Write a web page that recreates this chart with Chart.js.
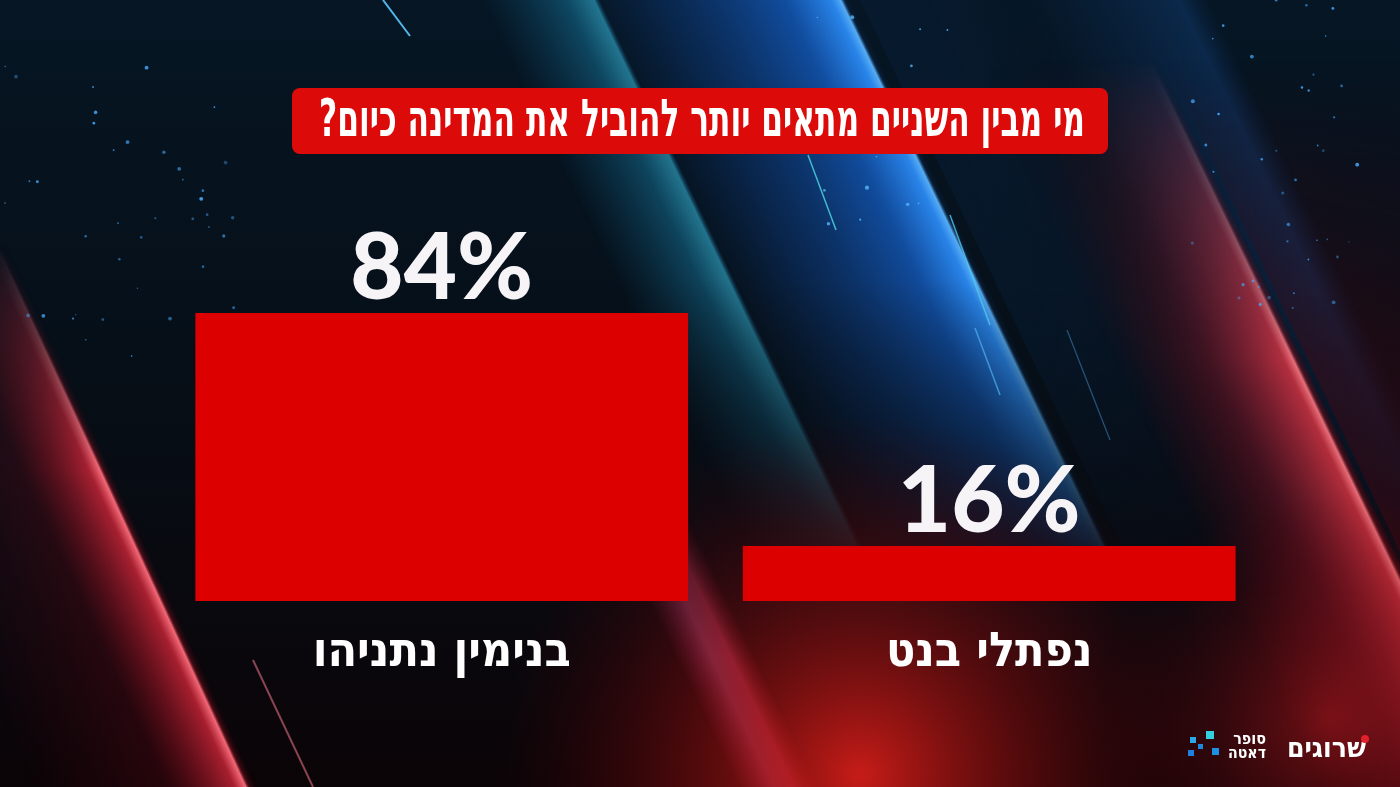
<!DOCTYPE html>
<html>
<head>
<meta charset="utf-8">
<script src="https://cdn.jsdelivr.net/npm/chart.js@4"></script>
<style>
html,body{margin:0;padding:0;background:#06111b;overflow:hidden}
canvas{display:block}
</style>
</head>
<body>
<canvas id="pollChart" width="1400" height="787"></canvas>
<script>
// data
const candidates = ["בנימין נתניהו", "נפתלי בנט"];
const shares = [84, 16];
const question = "מי מבין השניים מתאים יותר להוביל את המדינה כיום?";

const HEB = '"Liberation Sans Narrow", "DejaVu Sans Condensed", "Noto Sans", sans-serif';
const NUM = 'Lato, "Open Sans", sans-serif';
const SLOPE = 0.48;

// seeded generator, only for background sparkles
let seed = 11;
function rnd(){ seed = (seed * 16807) % 2147483647; return (seed - 1) / 2147483646; }

// diagonal band with a gradient across it
function band(ctx, x, w, slope, h, stops){
  const a = Math.atan(slope);
  ctx.save();
  ctx.translate(x, 0);
  ctx.rotate(-a);
  const ww = w * Math.cos(a);
  const g = ctx.createLinearGradient(0, 0, ww, 0);
  stops.forEach(s => g.addColorStop(s[0], s[1]));
  ctx.fillStyle = g;
  ctx.fillRect(0, -50, ww, h / Math.cos(a) + 300);
  ctx.restore();
}

// draw on an offscreen layer and fade it vertically
function layer(ctx, w, h, y0, a0, y1, a1, draw){
  const off = document.createElement('canvas');
  off.width = w; off.height = h;
  const o = off.getContext('2d');
  draw(o);
  o.globalCompositeOperation = 'destination-in';
  const g = o.createLinearGradient(0, y0, 0, y1);
  g.addColorStop(0, 'rgba(0,0,0,' + a0 + ')');
  g.addColorStop(1, 'rgba(0,0,0,' + a1 + ')');
  o.fillStyle = g;
  o.fillRect(0, 0, w, h);
  ctx.drawImage(off, 0, 0);
}

function streakLine(ctx, x1, y1, x2, y2, color, width){
  ctx.save();
  ctx.strokeStyle = color;
  ctx.lineWidth = width;
  ctx.beginPath();
  ctx.moveTo(x1, y1);
  ctx.lineTo(x2, y2);
  ctx.stroke();
  ctx.restore();
}

function paintBackground(ctx, w, h){
  let g = ctx.createLinearGradient(0, 0, 0, h);
  g.addColorStop(0, '#061624');
  g.addColorStop(0.45, '#060f18');
  g.addColorStop(1, '#0b0407');
  ctx.fillStyle = g;
  ctx.fillRect(0, 0, w, h);

  // blue bands, fading out toward the bottom
  layer(ctx, w, h, 280, 1, 600, 0, o => {
    band(o, 480, 120, SLOPE, h, [[0,'rgba(20,120,170,0)'],[0.7,'rgba(30,160,210,0.35)'],[0.95,'rgba(60,200,235,0.55)'],[1,'rgba(20,120,170,0)']]);
    band(o, 585, 265, SLOPE, h, [[0,'rgba(15,60,120,0)'],[0.3,'rgba(15,65,140,0.4)'],[0.75,'rgba(22,100,210,0.7)'],[0.93,'rgba(45,145,255,0.9)'],[0.965,'rgba(90,180,255,0.95)'],[0.98,'rgba(10,40,80,0.4)'],[1,'rgba(10,40,80,0)']]);
    band(o, 860, 170, SLOPE, h, [[0,'rgba(8,30,55,0.5)'],[0.5,'rgba(10,35,65,0.3)'],[1,'rgba(10,35,65,0)']]);
    band(o, 1010, 200, SLOPE, h, [[0,'rgba(15,55,110,0)'],[0.85,'rgba(20,70,135,0.4)'],[1,'rgba(15,55,110,0)']]);
  });

  // left red streak
  layer(ctx, w, h, 240, 0, 470, 1, o => {
    band(o, -330, 225, 0.46, h, [[0,'rgba(120,5,20,0)'],[0.6,'rgba(140,10,25,0.22)'],[0.9,'rgba(220,40,60,0.75)'],[0.95,'rgba(255,110,125,0.95)'],[0.965,'rgba(150,20,35,0.4)'],[1,'rgba(60,0,10,0)']]);
  });

  // right red streak
  layer(ctx, w, h, 60, 0, 360, 1, o => {
    band(o, 940, 190, SLOPE, h, [[0,'rgba(120,5,20,0)'],[0.5,'rgba(170,25,45,0.35)'],[0.9,'rgba(235,55,70,0.75)'],[0.95,'rgba(255,120,130,0.9)'],[0.97,'rgba(140,15,25,0.45)'],[1,'rgba(60,0,10,0.3)']]);
    band(o, 1135, 400, SLOPE, h, [[0,'rgba(80,5,15,0.4)'],[1,'rgba(40,0,8,0.2)']]);
  });

  // centre pink streak
  layer(ctx, w, h, 430, 0, 660, 1, o => {
    band(o, 360, 80, SLOPE, h, [[0,'rgba(180,40,110,0)'],[0.45,'rgba(225,90,160,0.55)'],[0.7,'rgba(235,70,120,0.6)'],[1,'rgba(180,30,60,0)']]);
  });

  // red glows
  let r = ctx.createRadialGradient(860, 775, 5, 860, 775, 360);
  r.addColorStop(0, 'rgba(215,30,25,0.9)');
  r.addColorStop(0.45, 'rgba(150,15,15,0.5)');
  r.addColorStop(1, 'rgba(80,0,5,0)');
  ctx.fillStyle = r;
  ctx.fillRect(400, 400, 1000, 387);

  r = ctx.createRadialGradient(1330, 720, 5, 1330, 720, 230);
  r.addColorStop(0, 'rgba(190,25,30,0.55)');
  r.addColorStop(1, 'rgba(100,0,8,0)');
  ctx.fillStyle = r;
  ctx.fillRect(1050, 450, 350, 337);

  // thin light lines
  streakLine(ctx, 383, 0, 410, 36, 'rgba(90,200,255,0.9)', 2);
  streakLine(ctx, 808, 155, 836, 230, 'rgba(80,220,230,0.8)', 1.5);
  streakLine(ctx, 950, 215, 990, 325, 'rgba(80,200,240,0.8)', 1.5);
  streakLine(ctx, 975, 328, 1000, 395, 'rgba(80,180,240,0.7)', 1.5);
  streakLine(ctx, 1067, 330, 1110, 440, 'rgba(70,150,220,0.5)', 1.2);
  streakLine(ctx, 253, 660, 313, 787, 'rgba(240,120,140,0.55)', 2);

  // sparkles
  for (let i = 0; i < 80; i++){
    const left = i < 40;
    const x = left ? 5 + rnd() * 230 : 1190 + rnd() * 170;
    const y = left ? 60 + rnd() * 320 : rnd() * 310;
    const s = 0.7 + rnd() * 1.3;
    ctx.fillStyle = 'rgba(70,170,255,' + (0.35 + rnd() * 0.55).toFixed(2) + ')';
    ctx.beginPath();
    ctx.arc(x, y, s, 0, Math.PI * 2);
    ctx.fill();
  }
  for (let i = 0; i < 16; i++){
    const x = 815 + rnd() * 140;
    const y = rnd() * 240;
    ctx.fillStyle = 'rgba(90,190,255,0.75)';
    ctx.beginPath();
    ctx.arc(x, y, 0.8 + rnd() * 1.4, 0, Math.PI * 2);
    ctx.fill();
  }
}

function roundRect(ctx, x, y, w, h, r){
  ctx.beginPath();
  ctx.moveTo(x + r, y);
  ctx.arcTo(x + w, y, x + w, y + h, r);
  ctx.arcTo(x + w, y + h, x, y + h, r);
  ctx.arcTo(x, y + h, x, y, r);
  ctx.arcTo(x, y, x + w, y, r);
  ctx.closePath();
}

const backdrop = {
  id: 'backdrop',
  beforeDraw(chart){
    const ctx = chart.ctx;
    ctx.save();
    paintBackground(ctx, chart.width, chart.height);

    // question box
    roundRect(ctx, 292, 88, 816, 66, 8);
    ctx.fillStyle = '#dd0a0a';
    ctx.fill();
    ctx.direction = 'rtl';
    ctx.fillStyle = '#ffffff';
    ctx.font = 'bold 52px ' + HEB;
    ctx.textAlign = 'center';
    ctx.textBaseline = 'middle';
    ctx.fillText(question, 702, 122, 766);
    ctx.restore();
  },
  afterDatasetsDraw(chart){
    const ctx = chart.ctx;
    const meta = chart.getDatasetMeta(0);
    ctx.save();
    ctx.fillStyle = '#f7f4f8';
    ctx.font = '900 92px ' + NUM;
    ctx.textAlign = 'center';
    ctx.textBaseline = 'alphabetic';
    meta.data.forEach((bar, i) => {
      ctx.fillText(shares[i] + '%', bar.x, bar.y - 14);
    });

    // logos
    ctx.direction = 'rtl';
    ctx.textAlign = 'right';
    ctx.fillStyle = '#ffffff';
    ctx.font = 'bold 28px ' + HEB;
    ctx.fillText('שרוגים', 1366, 757, 80);
    ctx.fillStyle = '#e0202a';
    ctx.beginPath();
    ctx.arc(1365, 739, 4, 0, Math.PI * 2);
    ctx.fill();
    ctx.fillStyle = '#ffffff';
    ctx.font = 'bold 16px ' + HEB;
    ctx.fillText('סופר', 1266, 744, 38);
    ctx.fillText('דאטה', 1266, 758, 38);
    const sq = [[1206,731,'#35d0e0',8],[1190,737,'#2aa8ea',6],[1198,744,'#1e88dc',5],[1212,748,'#1e90e4',7],[1188,750,'#2080e0',6]];
    sq.forEach(s => { ctx.fillStyle = s[2]; ctx.fillRect(s[0], s[1], s[3], s[3]); });
    ctx.restore();
  }
};

new Chart(document.getElementById('pollChart'), {
  type: 'bar',
  data: {
    labels: candidates,
    datasets: [{
      data: shares,
      backgroundColor: '#dc0000',
      borderWidth: 0,
      barPercentage: 0.9,
      categoryPercentage: 1
    }]
  },
  options: {
    responsive: false,
    animation: false,
    devicePixelRatio: 1,
    layout: { padding: { left: 168, right: 137, top: 258, bottom: 0 } },
    plugins: { legend: { display: false }, tooltip: { enabled: false }, title: { display: false } },
    scales: {
      y: { display: false, min: 0, max: 100 },
      x: {
        grid: { display: false, drawTicks: false },
        border: { display: false },
        ticks: {
          color: '#ffffff',
          padding: 24,
          font: { family: HEB, size: 48, weight: 'bold' }
        },
        afterFit(scale){ scale.height = 186; }
      }
    }
  },
  plugins: [backdrop]
});
</script>
</body>
</html>
